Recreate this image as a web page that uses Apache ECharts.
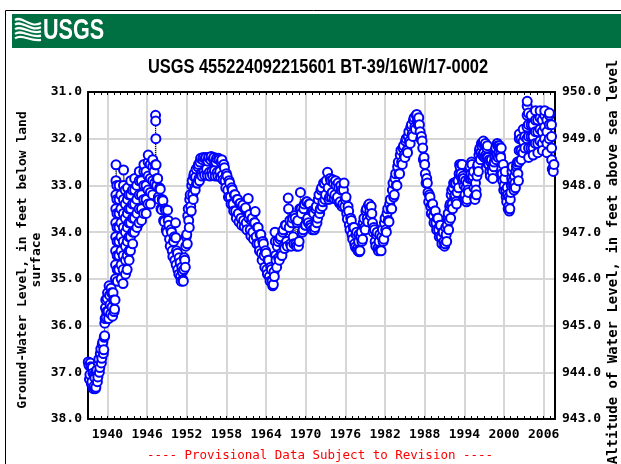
<!DOCTYPE html>
<html><head><meta charset="utf-8">
<script src="https://cdn.jsdelivr.net/npm/echarts@6/dist/echarts.min.js"></script>
<style>html,body{margin:0;padding:0;background:#fff;}#c{width:621px;height:464px;}</style>
</head><body><div id="c"></div><script>
// ---- data (decimal year, depth below land surface in ft) ----
const obsLoop1937 = [
[1937.10,36.78],[1937.20,36.85],[1937.35,37.05],[1937.50,36.88],[1937.65,37.20],[1937.80,37.02],[1937.95,37.30],[1938.10,37.12],[1938.25,37.32],[1938.40,36.95],[1938.55,37.10],[1938.70,36.72],[1938.85,36.90],[1939.00,36.50],[1939.15,36.70],[1939.30,36.35],[1939.45,36.52],[1939.58,36.22],
[1939.60,35.95],[1939.70,35.62],[1939.80,35.82],[1939.95,35.42],[1940.10,35.70],[1940.25,35.15],[1940.40,35.55],[1940.55,35.20],[1940.70,35.60],[1940.85,35.30],[1941.00,35.70],[1941.15,35.45]
];
const obsLoopExtra = [
[1937.28,37.15],[1937.42,36.80],[1937.58,37.25],[1937.72,36.90],[1937.88,37.35],[1938.02,37.05],[1938.18,37.35],[1938.32,37.00],[1938.48,37.20],[1938.62,36.80],[1938.78,37.00],[1938.92,36.60],[1939.08,36.80],[1939.22,36.40],[1939.38,36.60],[1939.52,36.25],
[1939.65,35.85],[1939.75,35.45],[1939.88,35.70],[1940.02,35.30],[1940.18,35.85],[1940.32,35.35],[1940.48,35.75],[1940.62,35.30],[1940.78,35.80],[1940.92,35.45],[1941.08,35.65]
];
const obsSurge1941 = [
[1941.22,35.00],[1941.23,34.70],[1941.24,34.40],[1941.25,34.10],[1941.26,33.80],[1941.27,33.50],[1941.28,33.20],[1941.29,32.90],[1941.30,32.56],
[1941.42,33.00],[1941.43,33.30],[1941.44,33.60],[1941.45,33.90],[1941.46,34.20],[1941.47,34.50],[1941.48,34.80],[1941.50,35.05],
[1941.72,34.80],[1941.73,34.50],[1941.74,34.20],[1941.75,33.90],[1941.76,33.60],[1941.77,33.30],[1941.78,33.00],
[1942.02,33.20],[1942.03,33.50],[1942.04,33.80],[1942.05,34.10],[1942.06,34.40],[1942.07,34.70],[1942.08,35.00],
[1942.36,35.10],[1942.37,34.80],[1942.38,34.50],[1942.39,34.20],[1942.40,33.90],[1942.41,33.60],[1942.42,33.30],[1942.43,33.00],[1942.44,32.67],
[1942.68,33.10],[1942.69,33.40],[1942.70,33.70],[1942.71,34.00],[1942.72,34.30],[1942.73,34.60],[1942.74,34.90],
[1942.98,34.80],[1942.99,34.50],[1943.00,34.20],[1943.01,33.90],[1943.02,33.60],[1943.03,33.30],[1943.04,33.05],
[1943.23,33.20],[1943.24,33.50],[1943.25,33.80],[1943.26,34.10],[1943.27,34.40],[1943.28,34.60],
[1943.48,34.40],[1943.49,34.10],[1943.50,33.80],[1943.51,33.50],[1943.52,33.20],[1943.53,32.90],
[1943.78,33.10],[1943.79,33.40],[1943.80,33.70],[1943.81,34.00],[1943.82,34.25],
[1944.08,34.00],[1944.09,33.70],[1944.10,33.40],[1944.11,33.10],[1944.12,32.85],
[1944.43,33.00],[1944.44,33.30],[1944.45,33.60],[1944.46,33.90],
[1944.78,33.80],[1944.79,33.50],[1944.80,33.20],[1944.81,32.90],[1944.82,32.70],
[1945.13,32.90],[1945.14,33.20],[1945.15,33.50],[1945.16,33.75],
[1945.48,33.60],[1945.49,33.30],[1945.50,33.00],[1945.51,32.70],[1945.52,32.55],
[1945.83,32.70],[1945.84,33.00],[1945.85,33.30],[1945.86,33.60],
[1946.13,33.40],[1946.14,33.10],[1946.15,32.80],[1946.16,32.50],[1946.17,32.35],
[1946.48,32.55],[1946.49,32.85],[1946.50,33.15],[1946.51,33.40],
[1946.83,33.20],[1946.84,32.90],[1946.85,32.60],[1946.86,32.45],
[1947.05,32.70],[1947.15,32.95],[1947.25,32.56],[1947.28,31.50],[1947.30,31.62],[1947.33,32.00],[1947.36,32.56],[1947.45,33.00]
];
const obsDecline1947 = [
[1947.50,32.85],[1947.70,33.25],[1947.90,33.05],[1948.10,33.50],[1948.30,33.30],[1948.50,33.75],[1948.70,33.50],[1948.90,33.95],[1949.10,33.53],[1949.20,33.75],[1949.40,34.15],[1949.60,33.95],[1949.80,34.40],[1950.00,34.20],[1950.20,34.60],[1950.30,33.80],[1950.35,34.12],[1950.45,34.40],[1950.65,34.80],[1950.85,34.55],[1951.05,34.95],[1951.25,34.75],[1951.40,35.02],[1951.55,34.80],[1951.70,34.60],[1951.85,34.30],[1952.00,34.05],[1952.15,33.65],[1952.30,33.75],[1952.45,33.30],[1952.60,33.45],[1952.75,33.00],[1952.90,33.20],[1953.05,32.80],[1953.20,33.05],[1953.35,32.82],[1953.50,32.95],[1953.70,32.60],[1953.85,32.85],[1954.00,32.50],[1954.20,32.75],[1954.40,32.45],[1954.60,32.70],[1954.80,32.42],[1955.00,32.65],[1955.20,32.48],[1955.40,32.72],[1955.60,32.45],[1955.80,32.70],[1956.00,32.43],[1956.20,32.68],[1956.40,32.50],[1956.60,32.72],[1956.80,32.42],[1957.00,32.70],[1957.20,32.50],[1957.40,32.78],[1957.60,32.55],[1957.80,32.90],[1958.00,32.75],[1958.20,33.10],[1958.40,32.90],[1958.60,33.25],[1958.80,33.05],[1959.00,33.40],[1959.20,33.20],[1959.40,33.55],[1959.60,33.30],[1959.80,33.60],[1960.00,33.40],[1960.20,33.70],[1960.40,33.45],[1960.60,33.75],[1960.80,33.50],[1961.00,33.80],[1961.30,33.28],[1961.40,33.70],[1961.60,33.95],[1961.80,33.75],[1962.00,34.00],[1962.20,33.80],[1962.35,33.56],[1962.50,34.10],[1962.70,33.90],[1962.90,34.25],[1963.10,34.05],[1963.30,34.45],[1963.50,34.20],[1963.70,34.50],[1963.90,34.40],[1964.10,34.80],[1964.30,34.60],[1964.50,34.95],[1964.70,34.75],[1964.90,35.05],[1965.10,35.12],[1965.20,34.85]
];
const obsDeclineExtra = [
[1947.60,32.85],[1947.80,33.30],[1948.00,33.08],[1948.20,33.52],[1948.40,33.33],[1948.60,33.78],[1948.80,33.53],[1949.00,34.00],[1949.30,33.85],[1949.50,34.30],[1949.70,34.00],[1949.90,34.52],[1950.10,34.10],[1950.40,34.70],[1950.60,34.45],[1950.80,34.90],[1951.00,34.65],[1951.15,35.05],[1951.33,34.85],[1951.48,35.05],[1951.62,34.55],[1951.78,34.75],[1951.92,34.10],[1952.08,34.25],[1952.22,33.50],[1952.38,33.90],[1952.52,33.20],[1952.68,33.55],[1952.82,32.90],[1952.98,33.30],[1953.12,32.75],[1953.28,33.10],[1953.42,32.65],[1953.60,32.95],[1953.78,32.55],[1953.92,32.90],
[1954.10,32.42],[1954.30,32.80],[1954.50,32.40],[1954.70,32.78],[1954.90,32.40],[1955.10,32.78],[1955.30,32.40],[1955.50,32.80],[1955.70,32.38],[1955.90,32.78],[1956.10,32.40],[1956.30,32.80],[1956.50,32.42],[1956.70,32.80],[1956.90,32.45],[1957.10,32.82],[1957.30,32.45],[1957.50,32.88],[1957.70,32.62],[1957.90,33.05],
[1958.10,32.80],[1958.30,33.25],[1958.50,32.95],[1958.70,33.40],[1958.90,33.10],[1959.10,33.55],[1959.30,33.20],[1959.50,33.70],[1959.70,33.30],[1959.90,33.78],[1960.10,33.38],[1960.30,33.85],[1960.50,33.42],[1960.70,33.88],[1960.90,33.48],[1961.10,33.95],[1961.50,33.62],[1961.70,34.08],[1961.90,33.70],[1962.10,34.15],[1962.30,33.80],[1962.60,34.25],[1962.80,33.90],[1963.00,34.40],[1963.20,34.05],[1963.40,34.60],[1963.60,34.25],[1963.80,34.75],[1964.00,34.45],[1964.20,34.90],[1964.40,34.60],[1964.60,35.05],[1964.80,34.80],[1965.00,35.15]
];
const obsMid1965 = [
[1965.35,34.00],[1965.40,34.20],[1965.50,34.60],[1965.70,34.30],[1965.90,34.55],[1966.10,34.15],[1966.30,34.45],[1966.50,34.00],[1966.70,34.30],[1966.90,33.85],[1967.10,34.20],[1967.35,33.27],[1967.40,33.50],[1967.50,33.90],[1967.70,34.25],[1967.90,33.80],[1968.10,34.10],[1968.30,33.65],[1968.50,34.25],[1968.70,33.80],[1968.90,34.30],[1969.10,33.50],[1969.20,33.15],[1969.35,33.60],[1969.50,34.00],[1969.70,33.50],[1969.90,33.85],[1970.10,33.35],[1970.30,33.70],[1970.50,33.40],[1970.70,33.85],[1970.90,33.55],[1971.00,33.95],[1971.20,33.60],[1971.40,33.90],[1971.60,33.45],[1971.80,33.70],[1972.00,33.20],[1972.20,33.50],[1972.40,33.05],[1972.60,33.35],[1972.80,32.95],[1973.00,33.20],[1973.30,32.72],[1973.40,33.05],[1973.60,33.25],[1973.80,32.90],[1974.00,33.15],[1974.20,32.95],[1974.40,33.20],[1974.60,33.00],[1974.80,33.25],[1975.00,33.05],[1975.20,33.35],[1975.40,33.10],[1975.60,33.40],[1975.80,32.95],[1976.00,33.30],[1976.20,33.60],[1976.40,33.45],[1976.60,33.85],[1976.80,33.70],[1977.00,34.05],[1977.20,33.90],[1977.40,34.25],[1977.60,34.05],[1977.80,34.35],[1978.00,34.20],[1978.10,34.42],[1978.30,34.10],[1978.50,34.20],[1978.70,33.80],[1978.90,33.90],[1979.10,33.55],[1979.30,33.70],[1979.50,33.42],[1979.70,33.55],[1979.90,33.45],[1980.10,33.80],[1980.30,33.90],[1980.50,34.20],[1980.70,34.05],[1980.90,34.35],[1981.10,34.20],[1981.30,34.38],[1981.50,34.10],[1981.70,34.20],[1981.90,33.80],[1982.10,33.95],[1982.30,33.60],[1982.50,33.75],[1982.70,33.40],[1982.90,33.50]
];
const obsMidExtra = [
[1965.25,34.95],[1965.45,34.50],[1965.60,34.75],[1965.80,34.20],[1966.00,34.60],[1966.20,34.10],[1966.40,34.50],[1966.60,33.95],[1966.80,34.35],[1967.00,33.85],[1967.20,34.30],[1967.60,33.75],[1967.80,34.30],[1968.00,33.70],[1968.20,34.25],[1968.40,33.70],[1968.60,34.30],[1968.80,33.75],[1969.00,34.20],[1969.30,33.50],[1969.60,33.95],[1969.80,33.40],[1970.00,33.85],[1970.20,33.35],[1970.40,33.80],[1970.60,33.40],[1970.80,33.90],[1971.10,33.55],[1971.30,33.95],[1971.50,33.50],[1971.70,33.80],[1971.90,33.30],[1972.10,33.60],[1972.30,33.10],[1972.50,33.45],[1972.70,32.95],[1972.90,33.30],[1973.10,32.90],[1973.50,33.30],[1973.70,32.85],[1973.90,33.25],[1974.10,32.88],[1974.30,33.28],[1974.50,32.90],[1974.70,33.30],[1974.90,32.95],[1975.10,33.38],[1975.30,33.00],[1975.50,33.45],[1975.70,33.10],[1975.90,33.45],
[1976.10,33.25],[1976.30,33.72],[1976.50,33.55],[1976.70,33.95],[1976.90,33.75],[1977.10,34.15],[1977.30,33.90],[1977.50,34.32],[1977.70,34.00],[1977.90,34.40],[1978.05,34.05],[1978.20,34.40],[1978.40,34.00],[1978.60,34.15],[1978.80,33.70],[1979.00,33.95],[1979.20,33.50],[1979.40,33.78],[1979.60,33.40],[1979.80,33.65],[1980.00,33.60],[1980.20,34.00],[1980.40,33.95],[1980.60,34.30],[1980.80,34.00],[1981.00,34.40],[1981.20,34.05],[1981.40,34.40],[1981.60,33.95],[1981.80,34.15],[1982.00,33.70],[1982.20,34.00],[1982.40,33.50],[1982.60,33.78],[1982.80,33.30],[1983.00,33.50]
];
const obsPeak1983 = [
[1983.10,33.10],[1983.30,33.25],[1983.50,32.85],[1983.70,33.00],[1983.90,32.60],[1984.10,32.75],[1984.30,32.35],[1984.50,32.50],[1984.70,32.20],[1984.90,32.35],[1985.10,32.05],[1985.30,32.25],[1985.50,31.95],[1985.70,32.05],[1985.90,31.75],[1986.10,31.90],[1986.30,31.60],[1986.50,31.75],[1986.70,31.50],[1986.90,31.60],[1987.10,31.55],[1987.30,31.85],[1987.50,31.95],[1987.70,32.20],[1987.90,32.40],[1988.10,32.75],[1988.30,32.85],[1988.50,33.15],[1988.70,33.20],[1988.90,33.45],[1989.10,33.40],[1989.30,33.65],[1989.50,33.55],[1989.70,33.80],[1989.90,33.70],[1990.10,33.95],[1990.30,33.85],[1990.50,34.10],[1990.70,34.00],[1990.90,34.20]
];
const obsPeakExtra = [
[1983.20,32.95],[1983.40,33.20],[1983.60,32.75],[1983.80,33.00],[1984.00,32.50],[1984.20,32.75],[1984.40,32.25],[1984.60,32.55],[1984.80,32.15],[1985.00,32.40],[1985.20,32.00],[1985.40,32.30],[1985.60,31.85],[1985.80,32.10],[1986.00,31.70],[1986.20,31.95],[1986.40,31.55],[1986.60,31.80],[1986.80,31.48],[1987.00,31.70],[1987.20,31.70],[1987.40,32.00],[1987.60,32.05],[1987.80,32.45],[1988.00,32.55],[1988.20,32.95],[1988.40,32.95],[1988.60,33.35],[1988.80,33.25],[1989.00,33.60],[1989.20,33.40],[1989.40,33.80],[1989.60,33.55],[1989.80,33.95],[1990.00,33.70],[1990.20,34.10],[1990.40,33.85],[1990.60,34.25],[1990.80,34.00],[1991.00,34.30]
];
const obsLate1991 = [
[1991.10,34.25],[1991.25,34.05],[1991.40,33.85],[1991.55,33.60],[1991.70,33.75],[1991.85,33.40],[1992.00,33.20],[1992.15,33.40],[1992.30,33.05],[1992.45,32.95],[1992.60,33.20],[1992.75,33.35],[1992.90,33.15],[1993.05,32.90],[1993.20,32.75],[1993.35,32.60],[1993.50,32.75],[1993.65,32.55],[1993.80,32.80],[1993.95,33.00],[1994.10,33.20],[1994.25,33.05],[1994.40,33.30],[1994.55,33.10],[1994.70,32.85],[1994.85,32.60],[1995.00,32.75],[1995.15,32.55],[1995.30,32.80],[1995.45,33.05],[1995.60,33.30],[1995.75,33.10],[1995.90,32.80],[1996.05,32.55],[1996.20,32.35],[1996.35,32.20],[1996.50,32.30],[1996.65,32.15],[1996.80,32.10],[1996.95,32.30],[1997.10,32.15],[1997.25,32.35],[1997.40,32.20],[1997.55,32.40],[1997.70,32.55],[1997.85,32.70],[1998.00,32.50],[1998.15,32.65],[1998.30,32.85],[1998.45,32.60],[1998.60,32.40],[1998.75,32.20],[1998.90,32.35],[1999.05,32.15],[1999.20,32.30],[1999.35,32.20],[1999.50,32.40],[1999.65,32.65],[1999.80,32.90],[1999.95,33.10],[2000.10,32.85],[2000.25,33.10],[2000.40,33.35],[2000.55,33.20],[2000.70,33.45],[2000.80,33.55],[2000.95,33.30],[2001.10,33.00],[2001.20,32.70],[2001.35,32.90],[2001.50,33.10],[2001.65,32.95],[2001.80,32.70],[2001.95,32.55],[2002.10,32.75]
];
const obsLateExtra = [
[1991.18,33.90],[1991.32,34.20],[1991.48,33.70],[1991.62,33.95],[1991.78,33.45],[1991.92,33.70],[1992.08,33.10],[1992.22,33.50],[1992.38,32.95],[1992.52,33.25],[1992.68,32.95],[1992.82,33.40],[1992.98,32.90],[1993.12,33.05],[1993.28,32.55],[1993.42,32.80],[1993.58,32.55],[1993.72,32.90],[1993.88,32.85],[1994.02,33.25],[1994.18,32.90],[1994.32,33.35],[1994.48,32.95],[1994.62,33.15],[1994.78,32.65],[1994.92,32.85],[1995.08,32.50],[1995.22,32.85],[1995.38,32.70],[1995.52,33.25],[1995.68,32.95],[1995.82,33.20],[1995.98,32.60],[1996.12,32.70],[1996.28,32.25],[1996.42,32.45],[1996.58,32.10],[1996.72,32.35],[1996.88,32.05],[1997.02,32.40],[1997.18,32.10],[1997.32,32.40],[1997.48,32.15],[1997.62,32.55],[1997.78,32.45],[1997.92,32.80],[1998.08,32.45],[1998.22,32.70],[1998.38,32.55],[1998.52,32.50],[1998.68,32.25],[1998.82,32.45],[1998.98,32.10],[1999.12,32.40],[1999.28,32.15],[1999.42,32.35],[1999.58,32.20],[1999.72,32.75],[1999.88,32.55],[2000.02,33.00],[2000.18,32.70],[2000.32,33.25],[2000.48,33.05],[2000.62,33.50],[2000.75,33.25],[2000.88,33.50],[2001.02,33.15],[2001.15,32.85],[2001.28,32.60],[2001.42,33.00],[2001.58,32.80],[2001.72,33.05],[2001.88,32.60],[2002.02,32.50],[2002.18,32.90]
];
const obsRecent2002 = [
[2002.28,32.50],[2002.29,32.25],[2002.30,32.00],[2002.31,31.90],
[2002.58,32.00],[2002.59,32.25],[2002.60,32.45],
[2002.88,32.30],[2002.89,32.05],[2002.90,31.80],
[2003.14,31.95],[2003.15,32.20],
[2003.47,32.00],[2003.48,31.75],[2003.49,31.50],[2003.50,31.30],[2003.51,31.20],
[2003.68,31.45],[2003.69,31.70],[2003.70,31.95],[2003.71,32.20],[2003.72,32.40],
[2004.08,32.20],[2004.09,31.95],[2004.10,31.70],[2004.11,31.50],
[2004.38,31.70],[2004.39,31.95],[2004.40,32.20],[2004.41,32.35],
[2004.73,32.10],[2004.74,31.85],[2004.75,31.60],[2004.76,31.40],
[2005.08,31.60],[2005.09,31.85],[2005.10,32.10],[2005.11,32.30],
[2005.43,32.05],[2005.44,31.80],[2005.45,31.55],[2005.46,31.40],
[2005.78,31.60],[2005.79,31.85],[2005.80,32.10],[2005.81,32.25],
[2006.13,32.00],[2006.14,31.75],[2006.15,31.50],[2006.16,31.40],
[2006.48,31.60],[2006.49,31.85],[2006.50,32.10],[2006.51,32.30],
[2006.83,32.00],[2006.84,31.70],[2006.85,31.50],[2006.86,31.45],
[2007.18,31.70],[2007.19,31.95],[2007.20,32.20],[2007.21,32.45],[2007.30,32.65],
[2007.45,32.70],[2007.55,32.55]
];
const sixYearTicks = [1940,1946,1952,1958,1964,1970,1976,1982,1988,1994,2000,2006];
const yearTicks = [1938,1939,1940,1941,1942,1943,1944,1945,1946,1947,1948,1949,1950,1951,1952,1953,1954,1955,1956,1957,1958,1959,1960,1961,1962,1963,1964,1965,1966,1967,1968,1969,1970,1971,1972,1973,1974,1975,1976,1977,1978,1979,1980,1981,1982,1983,1984,1985,1986,1987,1988,1989,1990,1991,1992,1993,1994,1995,1996,1997,1998,1999,2000,2001,2002,2003,2004,2005,2006,2007];
const yearRange = [1937.06, 2007.71];
const depthRange = [31, 38];
const altitudeRange = [943, 950];
const chartTitle = 'USGS 455224092215601 BT-39/16W/17-0002';
const leftAxisName = 'Ground-Water Level, in feet below land\nsurface';
const rightAxisName = 'Altitude of Water Level, in feet above sea level';
const footerText = '---- Provisional Data Subject to Revision ----';

const allObs = [].concat(obsLoop1937, obsLoopExtra, obsSurge1941, obsDecline1947, obsDeclineExtra,
  obsMid1965, obsMidExtra, obsPeak1983, obsPeakExtra, obsLate1991, obsLateExtra, obsRecent2002)
  .sort((a, b) => a[0] - b[0]);

const MONO = '"DejaVu Sans Mono", monospace';
const SANS = '"Liberation Sans", Arial, sans-serif';
const lblStyle = {color:'#000', fontFamily: MONO, fontWeight:'bold', fontSize:13};

const waves = [];
for (let k = 0; k < 5; k++) {
  waves.push({type:'bezierCurve', silent:true, z:20,
    shape:{x1:15, y1:20+k*4.6, cpx1:22, cpy1:15+k*4.6, cpx2:30, cpy2:29+k*3.2, x2:41, y2:23+k*4.2},
    style:{stroke:'#fff', lineWidth:2.2, fill:null}});
}

const chart = echarts.init(document.getElementById('c'), null, {renderer:'canvas'});
chart.setOption({
  animation:false,
  backgroundColor:'#fff',
  grid:{left:88, right:66, top:92, bottom:45, containLabel:false},
  xAxis:[
    {type:'value', min:yearRange[0], max:yearRange[1], position:'bottom',
     axisLine:{show:true, onZero:false, lineStyle:{color:'#000', width:2}},
     axisTick:{show:false, customValues:sixYearTicks},
     axisLabel:{show:true, customValues:sixYearTicks, margin:9, formatter:v=>String(Math.round(v)), ...lblStyle},
     splitLine:{show:true, lineStyle:{color:'#d6d6d6', width:2}}},
    {type:'value', min:yearRange[0], max:yearRange[1], position:'bottom',
     axisLine:{show:false},
     axisTick:{show:true, inside:true, length:3, customValues:yearTicks, lineStyle:{color:'#000', width:1}},
     axisLabel:{show:false}, splitLine:{show:false}},
    {type:'value', min:yearRange[0], max:yearRange[1], position:'top',
     axisLine:{show:true, onZero:false, lineStyle:{color:'#000', width:2}},
     axisTick:{show:true, inside:true, length:3, customValues:yearTicks, lineStyle:{color:'#000', width:1}},
     axisLabel:{show:false}, splitLine:{show:false}}
  ],
  yAxis:[
    {type:'value', inverse:true, min:depthRange[0], max:depthRange[1], interval:1, position:'left',
     axisLine:{show:true, onZero:false, lineStyle:{color:'#000', width:2}},
     axisTick:{show:false},
     axisLabel:{margin:6, formatter:v=>v.toFixed(1), ...lblStyle},
     splitLine:{show:true, lineStyle:{color:'#d6d6d6', width:2}}},
    {type:'value', min:altitudeRange[0], max:altitudeRange[1], interval:1, position:'right',
     axisLine:{show:true, onZero:false, lineStyle:{color:'#000', width:2}},
     axisTick:{show:false},
     axisLabel:{margin:7, formatter:v=>v.toFixed(1), ...lblStyle},
     splitLine:{show:false}}
  ],
  series:[{
    type:'line', xAxisIndex:0, yAxisIndex:0, data:allObs,
    showAllSymbol:true, symbol:'emptyCircle', symbolSize:9,
    itemStyle:{color:'#0000ff', borderColor:'#0000ff', borderWidth:1.8},
    lineStyle:{color:'#000', width:1, type:'dotted'},
    emphasis:{disabled:true}, clip:true
  }],
  graphic:[
    {type:'rect', silent:true, z:-10, shape:{x:5.5, y:10.5, width:700, height:600}, style:{fill:null, stroke:'#000', lineWidth:1}},
    {type:'rect', silent:true, z:10, shape:{x:12, y:14, width:620, height:34}, style:{fill:'#006f41'}},
    ...waves,
    {type:'text', silent:true, z:20, x:43, y:31, scaleX:0.72, style:{text:'USGS', fill:'#fff', font:'bold 30px '+SANS, textAlign:'left', textVerticalAlign:'middle', verticalAlign:'middle'}},
    {type:'text', silent:true, z:20, x:318, y:67, scaleX:0.82, style:{text:chartTitle, fill:'#000', font:'bold 20px '+SANS, textAlign:'center', textVerticalAlign:'middle', verticalAlign:'middle'}},
    {type:'text', silent:true, z:20, x:30, y:260, rotation:Math.PI/2, style:{text:leftAxisName, fill:'#000', font:'bold 13px '+MONO, lineHeight:14, textAlign:'center', align:'center', textVerticalAlign:'middle', verticalAlign:'middle'}},
    {type:'text', silent:true, z:20, x:613, y:262, rotation:Math.PI/2, style:{text:rightAxisName, fill:'#000', font:'bold 14px '+MONO, textAlign:'center', align:'center', textVerticalAlign:'middle', verticalAlign:'middle'}},
    {type:'text', silent:true, z:20, x:320, y:456, style:{text:footerText, fill:'#ff0000', font:'12.5px '+MONO, textAlign:'center', textVerticalAlign:'middle', verticalAlign:'middle'}}
  ]
});
</script></body></html>
